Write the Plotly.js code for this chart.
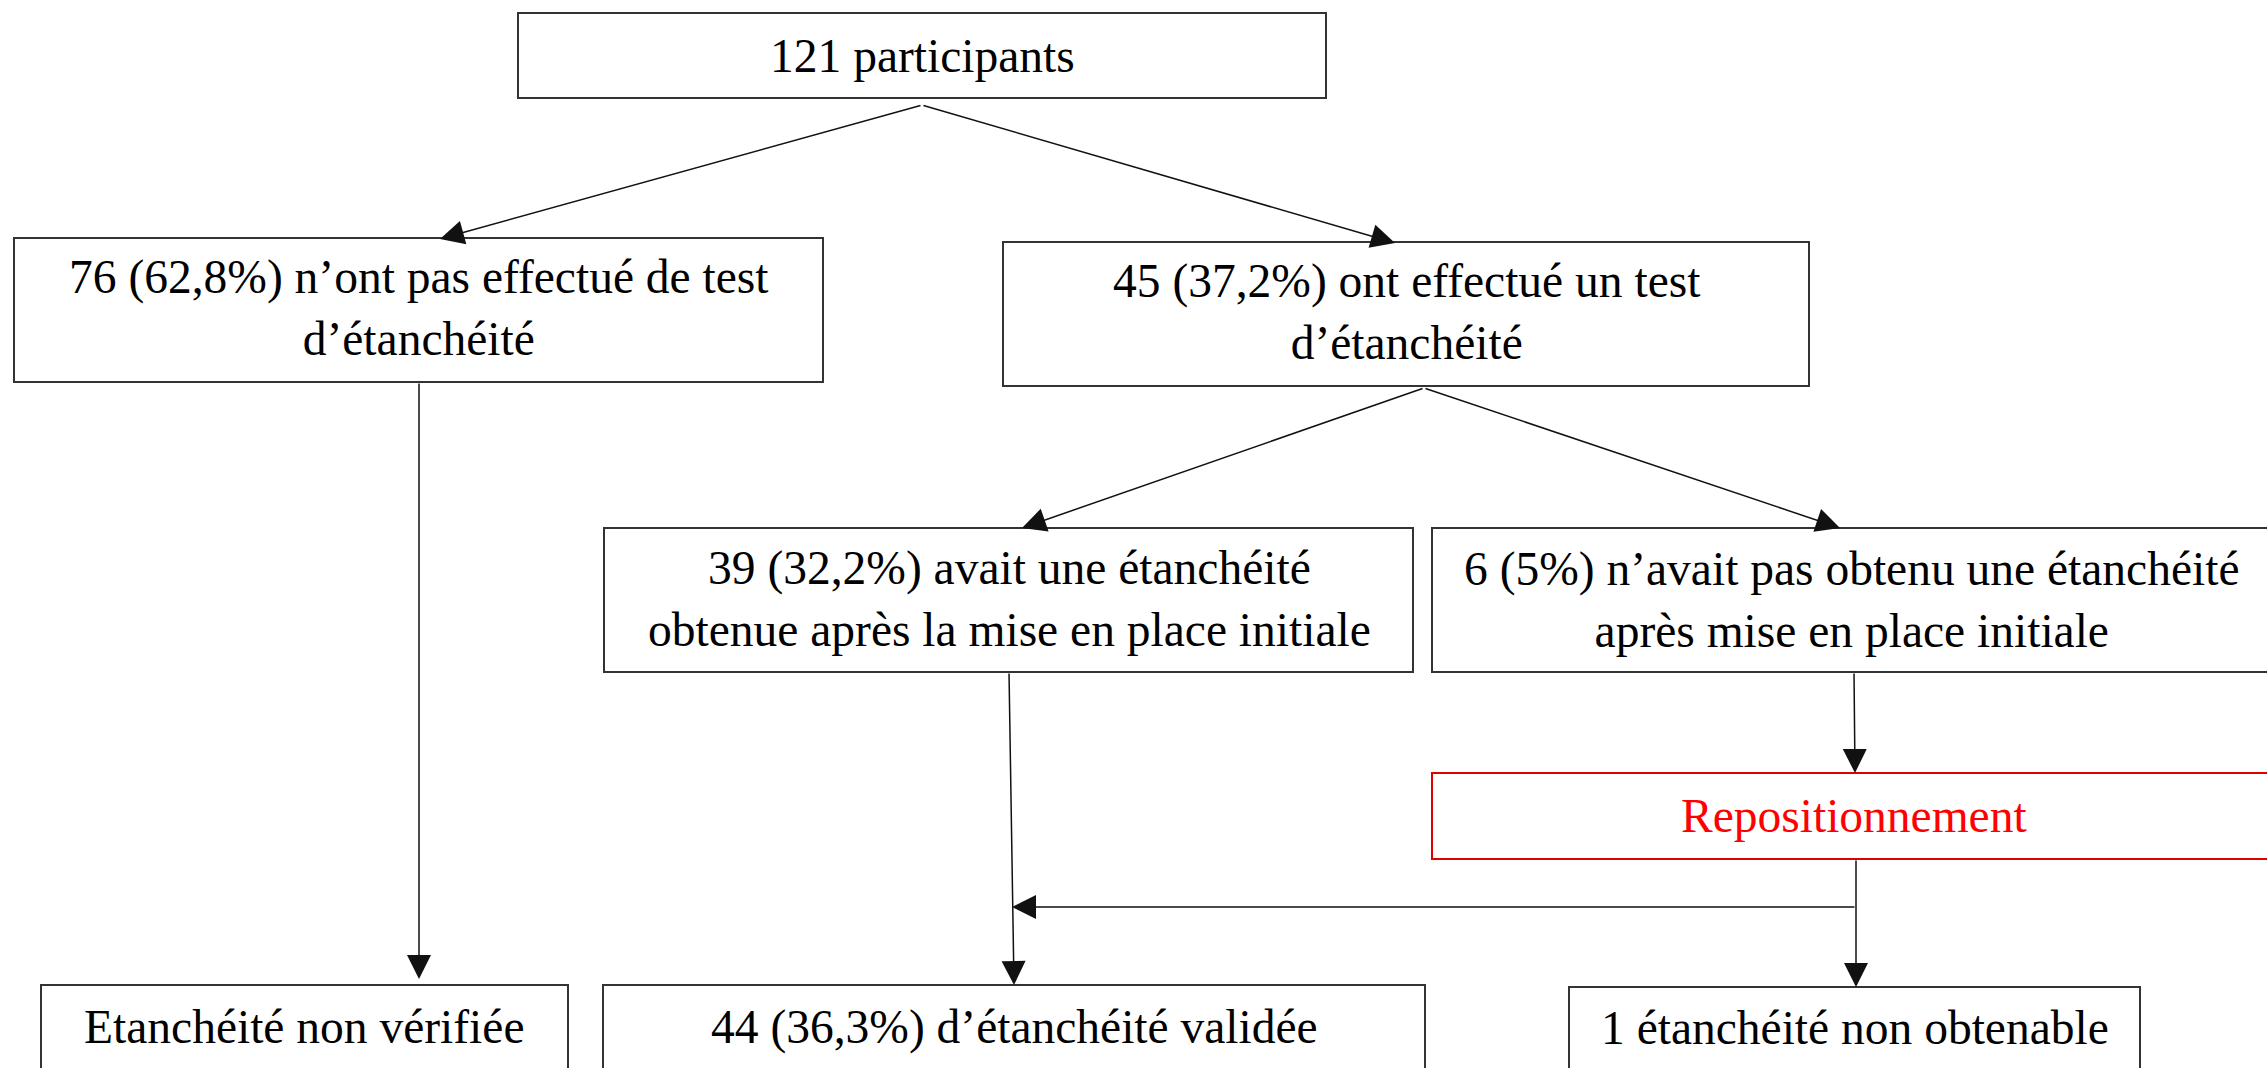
<!DOCTYPE html>
<html>
<head>
<meta charset="utf-8">
<script src="https://cdn.plot.ly/plotly-3.0.1.min.js"></script>
<style>html,body{margin:0;padding:0;background:#fff;overflow:hidden}#chart{width:2267px;height:1068px}</style>
</head>
<body>
<div id="chart"></div>
<script>
// ---- Data (flowchart content) ----
const nodeLabels = [
  "121 participants",
  "76 (62,8%) n’ont pas effectué de test<br>d’étanchéité",
  "45 (37,2%) ont effectué un test<br>d’étanchéité",
  "39 (32,2%) avait une étanchéité<br>obtenue après la mise en place initiale",
  "6 (5%) n’avait pas obtenu une étanchéité<br>après mise en place initiale",
  "Repositionnement",
  "Etanchéité non vérifiée",
  "44 (36,3%) d’étanchéité validée",
  "1 étanchéité non obtenable"
];
const nodeColors = ["#000","#000","#000","#000","#000","#ff0000","#000","#000","#000"];

// ---- Layout geometry (pixels, y downward) ----
const boxes = [
  {x0:518,  x1:1326, y0:13,  y1:98},
  {x0:14,   x1:823,  y0:238, y1:382},
  {x0:1003, x1:1809, y0:242, y1:386},
  {x0:604,  x1:1413, y0:528, y1:672},
  {x0:1432, x1:2290, y0:528, y1:672},
  {x0:1432, x1:2290, y0:773, y1:859},
  {x0:41,   x1:568,  y0:985, y1:1090},
  {x0:603,  x1:1425, y0:985, y1:1090},
  {x0:1569, x1:2140, y0:987, y1:1090}
];
const textPos = [
  {x:922, y:56}, {x:419, y:308}, {x:1406, y:312}, {x:1009, y:599},
  {x:1852, y:600}, {x:1854, y:816}, {x:304, y:1027}, {x:1014, y:1027}, {x:1855, y:1028}
];
// arrows: [tailX, tailY, tipX, tipY]
const arrows = [
  [922, 105, 440, 239],
  [922, 105, 1395, 243],
  [419, 382, 419, 979],
  [1424, 388, 1022, 528],
  [1424, 388, 1840, 528],
  [1854, 672, 1855, 773],
  [1009, 672, 1014, 985],
  [1856, 907, 1012, 907],
  [1856, 859, 1856, 987]
];

const shapes = boxes.map((b, i) => ({
  type: 'rect', xref: 'x', yref: 'y',
  x0: b.x0, x1: b.x1, y0: b.y0, y1: b.y1,
  line: {color: i === 5 ? '#e00000' : '#333', width: 2},
  fillcolor: 'rgba(0,0,0,0)'
}));

const annotations = [];
nodeLabels.forEach((t, i) => {
  annotations.push({
    xref: 'x', yref: 'y', x: textPos[i].x, y: textPos[i].y,
    text: t, showarrow: false, xanchor: 'center', yanchor: 'middle', align: 'center',
    font: {family: 'Liberation Serif, Times New Roman, serif', size: 47.5, color: nodeColors[i]}
  });
});
arrows.forEach(a => {
  annotations.push({
    xref: 'x', yref: 'y', axref: 'x', ayref: 'y',
    x: a[2], y: a[3], ax: a[0], ay: a[1],
    text: '', showarrow: true, arrowhead: 2, arrowsize: 3.2, arrowwidth: 1.5,
    arrowcolor: '#111', standoff: 0, startstandoff: 0
  });
});

const layout = {
  width: 2267, height: 1068,
  margin: {l: 0, r: 0, t: 0, b: 0, pad: 0},
  paper_bgcolor: '#fff', plot_bgcolor: '#fff',
  showlegend: false,
  xaxis: {range: [0, 2267], visible: false, fixedrange: true},
  yaxis: {range: [1068, 0], visible: false, fixedrange: true},
  shapes: shapes,
  annotations: annotations
};

Plotly.newPlot('chart', [{x: [], y: [], type: 'scatter', mode: 'markers', hoverinfo: 'skip'}], layout, {staticPlot: true, displayModeBar: false});
</script>
</body>
</html>
